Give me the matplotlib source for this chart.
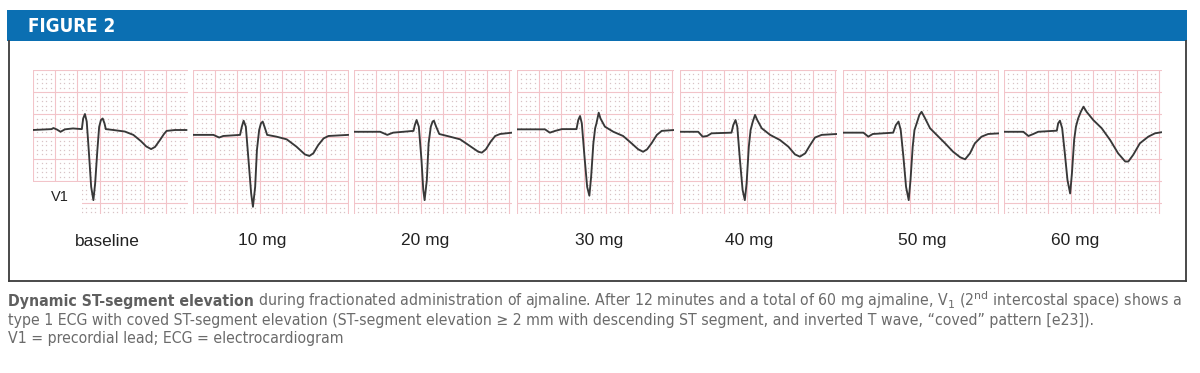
import numpy as np
import matplotlib
matplotlib.use("Agg")
import matplotlib.pyplot as plt
from matplotlib import font_manager
from matplotlib.patches import Rectangle
from matplotlib.lines import Line2D

# ---------------- data (ECG paper units: mm, 25 mm/s, 10 mm/mV) ----------------
doses = ["baseline", "10 mg", "20 mg", "30 mg", "40 mg", "50 mg", "60 mg"]
lead_label = "V1"
header_title = "FIGURE 2"

t_base = [0, 4.2, 4.6, 5.4, 6.2, 7.2, 9.0, 11.0, 11.3, 11.7, 12.1, 12.6, 13.1, 13.6, 14.0, 14.5,
          14.9, 15.3, 15.7, 16.1, 16.4, 18.1, 20.7, 22.6, 24.3, 25.5, 26.6, 27.5, 28.6, 29.5, 30.1, 32.0, 34.6]
v_base = [0, 0.2, 0.45, 0.1, -0.4, 0.15, 0.35, 0.2, 2.6, 3.6, 1.9, -5.2, -12.8, -15.8, -12.0, -4.5,
          0.7, 2.25, 2.6, 1.5, 0.2, 0, -0.35, -1.1, -2.5, -3.7, -4.3, -3.8, -2.25, -0.9, -0.2, 0, 0]

t_10 = [0, 4.6, 5.9, 6.8, 10.6, 11.0, 11.4, 11.9, 12.5, 13.1, 13.5, 14.0, 14.4, 14.9, 15.3, 15.7,
        16.1, 16.7, 18.8, 21.1, 23.3, 25.2, 26.2, 27.1, 28.2, 29.4, 30.5, 35.0]
v_10 = [-1.1, -1.1, -1.7, -1.35, -1.1, 0.75, 2.1, 0.75, -6.75, -14.3, -17.3, -12.8, -4.5, 0, 1.5, 1.9,
        0.75, -1.1, -1.5, -2.1, -3.75, -5.5, -5.85, -5.25, -3.4, -1.9, -1.35, -1.1]

t_20 = [0, 5.9, 7.5, 8.8, 13.4, 13.7, 14.1, 14.6, 15.2, 15.6, 15.9, 16.4, 16.8, 17.3, 17.7, 18.0,
        18.5, 19.2, 21.6, 23.9, 26.1, 28.0, 28.8, 29.7, 30.8, 31.8, 32.9, 35.6]
v_20 = [-0.4, -0.4, -1.1, -0.6, -0.2, 1.1, 2.25, 0.75, -6.75, -13.5, -15.8, -11.3, -3.0, 0.75, 1.9, 2.1,
        0.75, -0.9, -1.5, -2.1, -3.6, -4.9, -5.1, -4.35, -2.6, -1.35, -0.9, -0.6]

t_30 = [0, 6.3, 7.4, 8.6, 10.1, 13.4, 13.8, 14.2, 14.6, 15.2, 15.8, 16.3, 16.7, 17.2, 17.6, 17.9,
        18.4, 18.8, 19.8, 21.7, 23.9, 25.8, 27.3, 28.4, 29.3, 30.3, 31.5, 32.6, 35.4]
v_30 = [0.15, 0.15, -0.6, -0.2, 0.2, 0.2, 2.25, 3.15, 1.5, -6.0, -12.8, -14.8, -10.5, -3.0, 0.4, 1.5,
        3.9, 2.6, 0.75, -0.4, -1.35, -3.0, -4.35, -4.9, -4.35, -3.0, -1.1, -0.2, 0]

t_40 = [0, 4.1, 5.1, 6.1, 7.1, 11.6, 12.0, 12.5, 12.9, 13.5, 14.1, 14.6, 15.0, 15.5, 15.9, 16.4,
        16.9, 17.4, 18.4, 20.3, 22.5, 24.4, 25.9, 27.0, 28.2, 29.3, 30.4, 31.9, 35.3]
v_40 = [-0.4, -0.4, -1.5, -1.35, -0.75, -0.6, 1.1, 2.25, 0.75, -6.75, -13.5, -15.8, -12.0, -3.75, 0, 1.9,
        3.4, 2.25, 0.4, -1.1, -2.25, -3.75, -5.5, -6.0, -5.25, -3.4, -1.7, -1.1, -0.9]

t_50 = [0, 4.6, 5.7, 6.7, 11.3, 11.9, 12.5, 13.0, 13.6, 14.2, 14.8, 15.2, 15.7, 16.1, 16.6, 17.2,
        17.7, 18.5, 19.6, 21.1, 23.0, 24.8, 26.4, 27.5, 28.6, 29.7, 31.2, 32.7, 35.2]
v_50 = [-0.6, -0.6, -1.5, -0.9, -0.6, 1.1, 1.9, 0, -6.0, -12.8, -15.8, -11.3, -3.75, 0, 1.5, 3.4,
        4.1, 2.6, 0.4, -1.1, -3.0, -4.9, -6.15, -6.6, -5.25, -3.0, -1.5, -0.9, -0.75]

t_60 = [0, 4.35, 5.5, 6.6, 7.7, 11.9, 12.2, 12.6, 13.1, 13.7, 14.3, 14.9, 15.3, 15.8, 16.2, 16.7,
        17.3, 17.9, 18.6, 20.1, 22.0, 23.9, 25.7, 27.3, 28.0, 29.1, 30.6, 32.5, 34.0, 35.5]
v_60 = [-0.4, -0.4, -1.35, -0.9, -0.4, -0.15, 1.5, 2.1, 0.4, -5.25, -11.3, -14.3, -9.75, -2.25, 0.75, 2.6,
        4.1, 5.25, 4.1, 2.25, 0.4, -2.25, -5.25, -7.1, -7.1, -5.6, -3.0, -1.5, -0.75, -0.5]

traces = [(t_base, v_base), (t_10, v_10), (t_20, v_20), (t_30, v_30),
          (t_40, v_40), (t_50, v_50), (t_60, v_60)]

caption_bold = "Dynamic ST-segment elevation"
caption_line1 = (" during fractionated administration of ajmaline. After 12 minutes and a total of 60 mg "
                 "ajmaline, V$_\\mathrm{1}$ (2$^\\mathrm{nd}$ intercostal space) shows a")
caption_line2 = ("type 1 ECG with coved ST-segment elevation (ST-segment elevation \u2265 2 mm with descending "
                 "ST segment, and inverted T wave, \u201ccoved\u201d pattern [e23]).")
caption_line3 = "V1 = precordial lead; ECG = electrocardiogram"

# ---------------- layout (pixels of the 1200x373 canvas) ----------------
W, H = 1200, 373
MM = 4.44                      # pixels per mm of ECG paper
panel_left = [33, 193, 354, 517, 680, 843, 1004]
panel_width = [155, 156, 158, 157, 157, 156, 158]
PANEL_TOP, PANEL_BOT, REF_Y = 70, 214, 130
label_x = [107, 262, 425, 599, 749, 922, 1075]
label_y = 241

# fonts
avail = {f.name for f in font_manager.fontManager.ttflist}
narrow = "Liberation Sans Narrow" if "Liberation Sans Narrow" in avail else None
sans = "Liberation Sans" if "Liberation Sans" in avail else "DejaVu Sans"
if narrow:
    cap_fp = dict(family=narrow)
else:
    cap_fp = dict(family="DejaVu Sans", stretch="condensed")
cap_family = narrow if narrow else "DejaVu Sans"
plt.rcParams["mathtext.fontset"] = "custom"
plt.rcParams["mathtext.rm"] = cap_family
plt.rcParams["mathtext.it"] = cap_family + ":italic"
plt.rcParams["mathtext.bf"] = cap_family + ":bold"

fig = plt.figure(figsize=(W / 100, H / 100), dpi=100)
fig.patch.set_facecolor("white")


def fx(x):
    return x / W


def fy(y):
    return 1 - y / H


# header bar
fig.patches.append(Rectangle((fx(7), fy(41)), (1187 - 7) / W, 31 / H, transform=fig.transFigure,
                             facecolor="#0b6fb2", edgecolor="none", zorder=1))
fig.text(fx(28), fy(26.5), header_title, color="white", fontsize=13.5, fontweight="bold",
         va="center", ha="left", **cap_fp)

# frame
frame_c = "#3c3c3c"
for xs, ys in [((8.5, 8.5), (41, 281)), ((8.5, 1185.5), (281, 281)), ((1185.5, 1185.5), (41, 281))]:
    fig.add_artist(Line2D([fx(v) for v in xs], [fy(v) for v in ys], transform=fig.transFigure,
                          color=frame_c, lw=1.3))

major_c = "#f2c4c9"
dot_c = "#d8c3c6"
trace_c = "#383838"

for i, (t, v) in enumerate(traces):
    L, w = panel_left[i], panel_width[i]
    ax = fig.add_axes([fx(L), fy(PANEL_BOT), w / W, (PANEL_BOT - PANEL_TOP) / H])
    xmax = w / MM
    ymin = (REF_Y - PANEL_BOT) / MM
    ymax = (REF_Y - PANEL_TOP) / MM
    ax.set_xlim(0, xmax)
    ax.set_ylim(ymin, ymax)
    ax.axis("off")
    gx = np.arange(0, int(xmax) + 1)
    gy = ymax - np.arange(0, int(ymax - ymin) + 1)
    for k in gx:
        if k % 5 == 0:
            ax.axvline(k, color=major_c, lw=0.8, zorder=1)
    for n, yy in enumerate(gy):
        if n % 5 == 0:
            ax.axhline(yy, color=major_c, lw=0.8, zorder=1)
    mx = [k for k in gx if k % 5 != 0]
    my = [yy for n, yy in enumerate(gy) if n % 5 != 0]
    DX, DY = np.meshgrid(mx, my)
    ax.plot(DX.ravel(), DY.ravel(), ls="none", marker="s", ms=0.9, mew=0, color=dot_c, zorder=0.5)
    if i == 0:
        ax.add_patch(Rectangle((0, ymin), (82 - L) / MM, (214 - 182) / MM, facecolor="white",
                               edgecolor="none", zorder=2))
        ax.text((60 - L) / MM, (REF_Y - 197) / MM, lead_label, fontsize=10.5, family=sans,
                color="#222222", ha="center", va="center", zorder=3)
    ax.plot(t, v, color=trace_c, lw=1.35, solid_joinstyle="round", solid_capstyle="round", zorder=4)
    fig.text(fx(label_x[i]), fy(label_y), doses[i], fontsize=12.5, family=sans, color="#222222",
             ha="center", va="center")

# caption
cap_c = "#6b6b6b"
bold_c = "#5f5f5f"
base_size = 10.0
renderer = fig.canvas.get_renderer()
tb = fig.text(fx(8), fy(306), caption_bold, fontsize=base_size, fontweight="bold", color=bold_c,
              va="baseline", ha="left", **cap_fp)
tr = fig.text(fx(8), fy(306), caption_line1, fontsize=base_size, color=cap_c, va="baseline",
              ha="left", **cap_fp)
wb = tb.get_window_extent(renderer).width
wr = tr.get_window_extent(renderer).width
scale = (1180 - 8) / (wb + wr)
size = base_size * scale
tb.set_fontsize(size)
tr.set_fontsize(size)
wb = tb.get_window_extent(renderer).width
tr.set_position((fx(8 + wb), fy(306)))
fig.text(fx(8), fy(324.5), caption_line2, fontsize=size, color=cap_c, va="baseline", ha="left", **cap_fp)
fig.text(fx(8), fy(343), caption_line3, fontsize=size, color=cap_c, va="baseline", ha="left", **cap_fp)

fig.savefig("out.png", dpi=100, facecolor="white")
